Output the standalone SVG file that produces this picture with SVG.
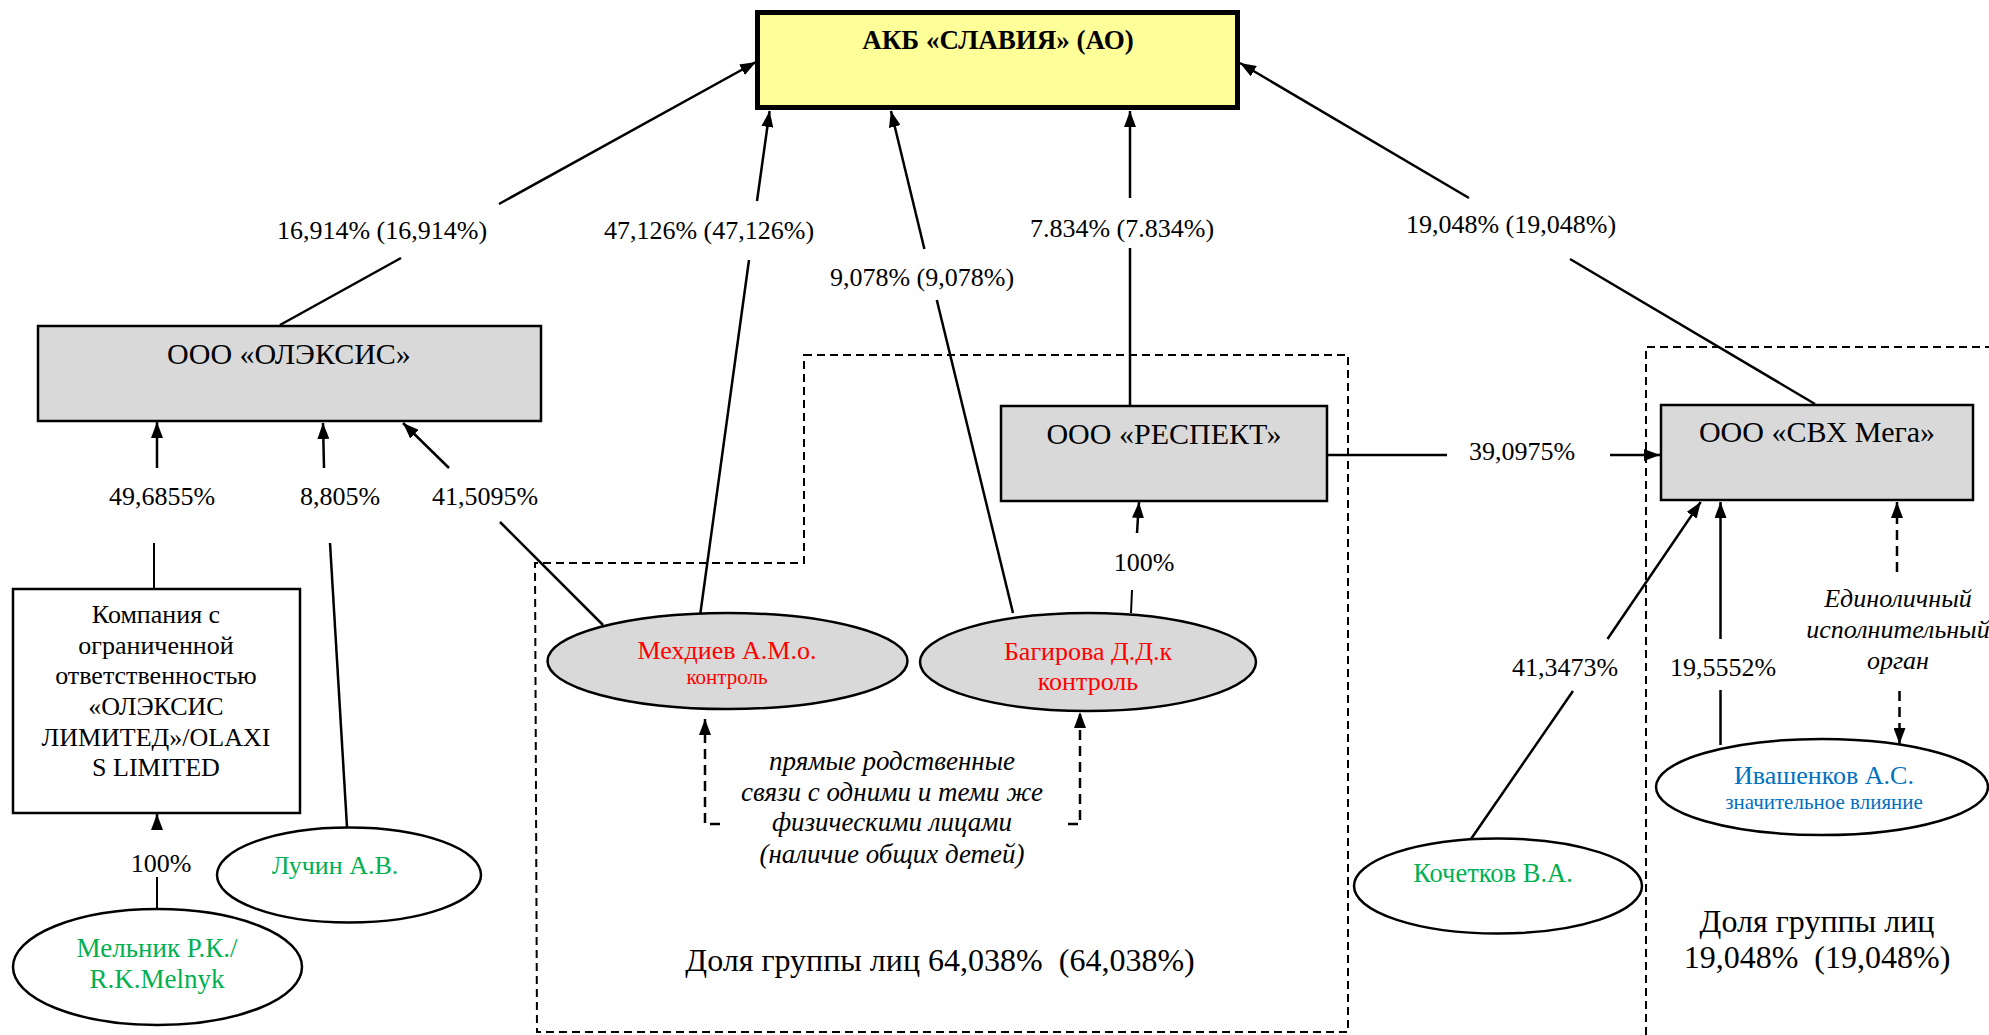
<svg xmlns="http://www.w3.org/2000/svg" width="1989" height="1035" viewBox="0 0 1989 1035">
<defs>
<style>
text{font-family:"Liberation Serif","Times New Roman",serif;font-size:26px;fill:#000;text-anchor:middle}
.b{font-weight:bold;font-size:27px}
.i{font-style:italic}
.it{font-style:italic;font-size:27px}
.big{font-size:32px}
.bt{font-size:30px}
.sm{font-size:21px}
.red{fill:#FF0000}
.grn{fill:#00B050}
.blu{fill:#0070C0}
.ln{stroke:#000;stroke-width:2.5;fill:none}
.thin{stroke:#000;stroke-width:2;fill:none}
.da{stroke:#000;stroke-width:2.5;fill:none;stroke-dasharray:10 6}
.grp{stroke:#000;stroke-width:2;fill:none;stroke-dasharray:8 5}
.box{fill:#D9D9D9;stroke:#000;stroke-width:2.5}
.wb{fill:#FFFFFF;stroke:#000;stroke-width:2.5}
.ell{fill:#FFFFFF;stroke:#000;stroke-width:2.5}
.gell{fill:#D9D9D9;stroke:#000;stroke-width:2.5}
</style>
<marker id="ar" viewBox="0 0 16 12" refX="16" refY="6" markerWidth="16" markerHeight="12" markerUnits="userSpaceOnUse" orient="auto">
<path d="M0,0 L16,6 L0,12 z" fill="#000"/>
</marker>
</defs>
<rect width="1989" height="1035" fill="#FFFFFF"/>

<g id="groups">
<path class="grp" d="M804,355 H1348 V1032 H537 L535,563 H804 Z"/>
<path class="grp" d="M1646,1035 V347 H1989"/>
</g>

<g id="connectors">
<line class="ln" x1="280" y1="325" x2="401" y2="258"/>
<line class="ln" x1="499" y1="204" x2="756" y2="62" marker-end="url(#ar)"/>
<line class="ln" x1="700" y1="616" x2="749" y2="260"/>
<line class="ln" x1="757" y1="201" x2="769.6" y2="111" marker-end="url(#ar)"/>
<line class="ln" x1="1013" y1="613" x2="936.8" y2="300"/>
<line class="ln" x1="924.4" y1="249" x2="891" y2="111" marker-end="url(#ar)"/>
<line class="ln" x1="1130" y1="405" x2="1130" y2="248"/>
<line class="ln" x1="1130" y1="198" x2="1130" y2="111" marker-end="url(#ar)"/>
<line class="ln" x1="1815" y1="404" x2="1570" y2="259"/>
<line class="ln" x1="1469" y1="198" x2="1240" y2="63" marker-end="url(#ar)"/>
<line class="ln" x1="1327" y1="455" x2="1447" y2="455"/>
<line class="ln" x1="1610" y1="455" x2="1660" y2="455" marker-end="url(#ar)"/>
<line class="ln" x1="157" y1="468" x2="157" y2="422" marker-end="url(#ar)"/>
<line class="thin" x1="154" y1="543" x2="154" y2="589"/>
<line class="ln" x1="324" y1="468" x2="323" y2="423" marker-end="url(#ar)"/>
<line class="ln" x1="330" y1="543" x2="347" y2="827"/>
<line class="ln" x1="449" y1="468" x2="403" y2="423" marker-end="url(#ar)"/>
<line class="ln" x1="500" y1="522" x2="603" y2="625"/>
<line class="ln" x1="157" y1="826" x2="157" y2="814" marker-end="url(#ar)"/>
<line class="thin" x1="157" y1="877" x2="157" y2="909"/>
<line class="ln" x1="1137" y1="533" x2="1139" y2="502" marker-end="url(#ar)"/>
<line class="thin" x1="1132" y1="590" x2="1131" y2="613"/>
<path class="da" d="M720,824 H705 V719" marker-end="url(#ar)"/>
<path class="da" d="M1068,824 H1080 V712" marker-end="url(#ar)"/>
<line class="ln" x1="1471" y1="839" x2="1573" y2="691"/>
<line class="ln" x1="1607.5" y1="639" x2="1700.7" y2="502" marker-end="url(#ar)"/>
<line class="ln" x1="1720.5" y1="745" x2="1720.5" y2="690"/>
<line class="ln" x1="1720.5" y1="639" x2="1720.5" y2="502" marker-end="url(#ar)"/>
<line class="da" x1="1897" y1="572" x2="1897" y2="502" marker-end="url(#ar)"/>
<line class="da" x1="1899.5" y1="691" x2="1899.5" y2="744" marker-end="url(#ar)"/>
</g>

<g id="labels">
<text x="382" y="239">16,914% (16,914%)</text>
<text x="709" y="239">47,126% (47,126%)</text>
<text x="922" y="286">9,078% (9,078%)</text>
<text x="1122" y="237">7.834% (7.834%)</text>
<text x="1511" y="233">19,048% (19,048%)</text>
<text x="162" y="505">49,6855%</text>
<text x="340" y="505">8,805%</text>
<text x="485" y="505">41,5095%</text>
<text x="161" y="872">100%</text>
<text x="1144" y="571">100%</text>
<text x="1522" y="460">39,0975%</text>
<text x="1565" y="676">41,3473%</text>
<text x="1723" y="676">19,5552%</text>
<text class="i" x="1898" y="607">Единоличный</text>
<text class="i" x="1898" y="638">исполнительный</text>
<text class="i" x="1898" y="669">орган</text>
<text class="it" x="892" y="770">прямые родственные</text>
<text class="it" x="892" y="801">связи с одними и теми же</text>
<text class="it" x="892" y="831">физическими лицами</text>
<text class="it" x="892" y="863">(наличие общих детей)</text>
<text class="big" x="940" y="971" xml:space="preserve">Доля группы лиц 64,038%  (64,038%)</text>
<text class="big" x="1817" y="932">Доля группы лиц</text>
<text class="big" x="1817" y="968" xml:space="preserve">19,048%  (19,048%)</text>
</g>

<g id="n-slavia">
<rect x="757.5" y="12.5" width="480" height="95" fill="#FFFF99" stroke="#000" stroke-width="5"/>
<text class="b" x="998" y="49">АКБ «СЛАВИЯ» (АО)</text>
</g>
<g id="n-olexis">
<rect class="box" x="38" y="326" width="503" height="95"/>
<text class="bt" x="289" y="364">ООО «ОЛЭКСИС»</text>
</g>
<g id="n-respekt">
<rect class="box" x="1001" y="406" width="326" height="95"/>
<text class="bt" x="1164" y="444">ООО «РЕСПЕКТ»</text>
</g>
<g id="n-svh">
<rect class="box" x="1661" y="405" width="312" height="95"/>
<text class="bt" x="1817" y="442">ООО «СВХ Мега»</text>
</g>
<g id="n-olaxis-ltd">
<rect class="wb" x="13" y="589" width="287" height="224"/>
<text x="156" y="623">Компания с</text>
<text x="156" y="653.5">ограниченной</text>
<text x="156" y="684">ответственностью</text>
<text x="156" y="715">«ОЛЭКСИС</text>
<text x="156" y="745.5">ЛИМИТЕД»/OLAXI</text>
<text x="156" y="776">S LIMITED</text>
</g>
<g id="n-mehdiev">
<ellipse class="gell" cx="727.5" cy="661" rx="180" ry="48"/>
<text class="red" x="727" y="659">Мехдиев А.М.о.</text>
<text class="red sm" x="727" y="684">контроль</text>
</g>
<g id="n-bagirova">
<ellipse class="gell" cx="1088" cy="662" rx="168" ry="49"/>
<text class="red" x="1088" y="660">Багирова Д.Д.к</text>
<text class="red" x="1088" y="690">контроль</text>
</g>
<g id="n-luchin">
<ellipse class="ell" cx="349" cy="875" rx="132" ry="47.5"/>
<text class="grn" x="335" y="874">Лучин А.В.</text>
</g>
<g id="n-melnik">
<ellipse class="ell" cx="157.5" cy="967" rx="144.5" ry="58"/>
<text class="grn" x="157" y="957" style="font-size:27px">Мельник Р.К./</text>
<text class="grn" x="157" y="988" style="font-size:27px">R.K.Melnyk</text>
</g>
<g id="n-kochetkov">
<ellipse class="ell" cx="1498" cy="886" rx="144" ry="47.5"/>
<text class="grn" x="1493" y="882" style="font-size:26.5px">Кочетков В.А.</text>
</g>
<g id="n-ivashenkov">
<ellipse class="ell" cx="1822" cy="787" rx="166" ry="48"/>
<text class="blu" x="1824" y="784">Ивашенков А.С.</text>
<text class="blu sm" x="1824" y="809">значительное влияние</text>
</g>
</svg>
